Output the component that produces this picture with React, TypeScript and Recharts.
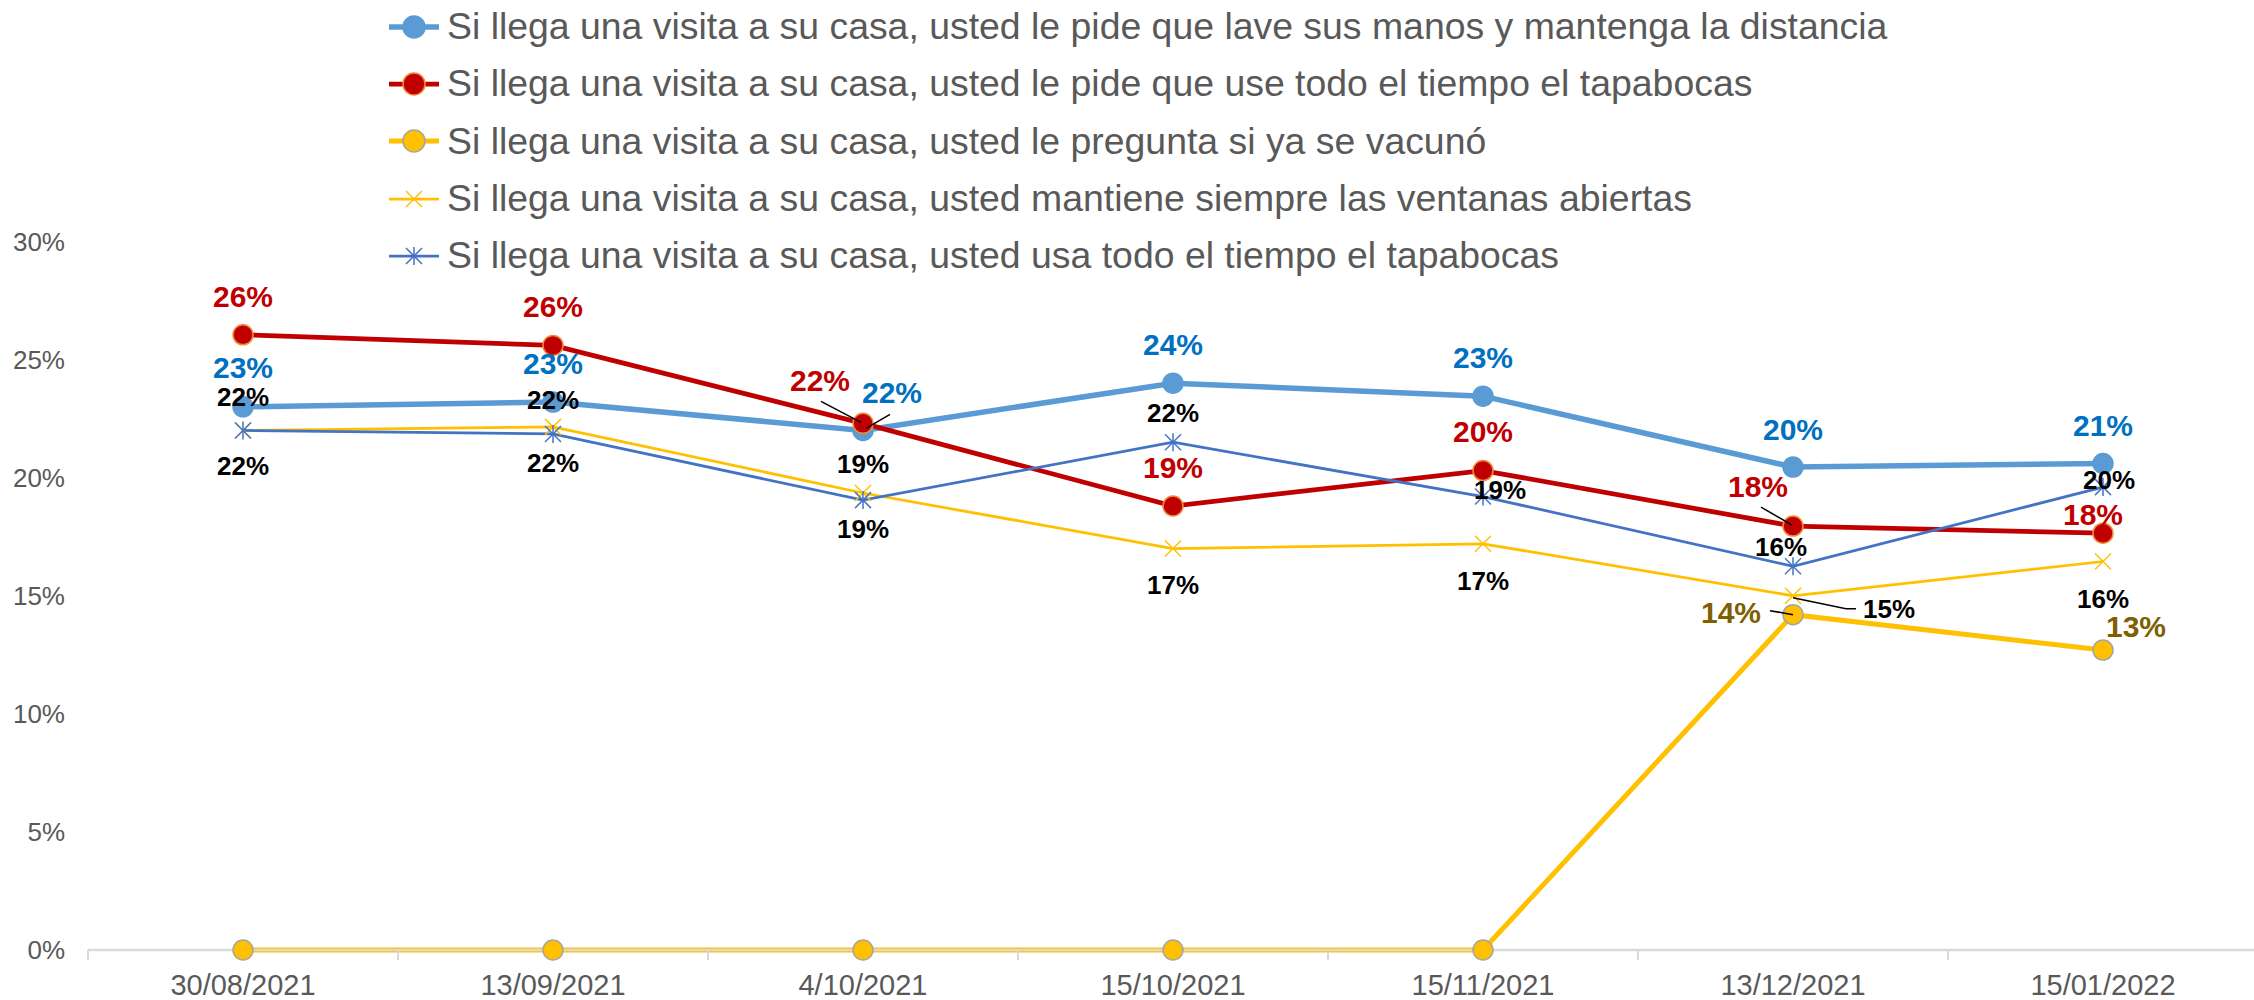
import React from "react";
import { LineChart, Line, XAxis, YAxis, LabelList, Legend } from "recharts";

document.body.style.margin = "0";

const FONT = "'Liberation Sans', Arial, sans-serif";

const fechas = ["30/08/2021", "13/09/2021", "4/10/2021", "15/10/2021", "15/11/2021", "13/12/2021", "15/01/2022"];
const lavarManos = [23.0, 23.2, 22.0, 24.0, 23.45, 20.45, 20.6];
const pideTapabocas = [26.05, 25.6, 22.3, 18.8, 20.3, 17.95, 17.65];
const preguntaVacuna = [0, 0, 0, 0, 0, 14.2, 12.7];
const ventanasAbiertas = [22.0, 22.15, 19.35, 17.0, 17.2, 15.0, 16.45];
const usaTapabocas = [22.0, 21.85, 19.05, 21.5, 19.2, 16.25, 19.6];
const yTicks = [0, 5, 10, 15, 20, 25, 30];

const data = fechas.map((fecha, i) => ({
  fecha,
  s1: lavarManos[i],
  s2: pideTapabocas[i],
  s3: preguntaVacuna[i],
  s4: ventanasAbiertas[i],
  s5: usaTapabocas[i],
}));

const W = 2254;
const H = 1000;
const LEFT = 88;
const RIGHT_MARGIN = -4;
const HALF_BAND = (W - LEFT - RIGHT_MARGIN) / fechas.length / 2;

type Pt = [number, number];

// label placement (offsets from the point, px) and leader lines
const series = [
  {
    key: "s1",
    name: "Si llega una visita a su casa, usted le pide que lave sus manos y mantenga la distancia",
    color: "#5B9BD5",
    width: 5.5,
    marker: "circle",
    markerStroke: "#5B9BD5",
    labelColor: "#0070C0",
    labelSize: 30,
    offsets: [[0, -39], [0, -39], [29, -38], [0, -39], [0, -39], [0, -38], [0, -38]] as Pt[],
    leaders: { 2: [[27, -16], [3, -2]] } as Record<number, Pt[]>,
  },
  {
    key: "s2",
    name: "Si llega una visita a su casa, usted le pide que use todo el tiempo el tapabocas",
    color: "#C00000",
    width: 4.75,
    marker: "circle",
    markerStroke: "#F08A3C",
    labelColor: "#C00000",
    labelSize: 30,
    offsets: [[0, -38], [0, -39], [-43, -43], [0, -39], [0, -39], [-35, -40], [-10, -19]] as Pt[],
    leaders: { 2: [[-42, -22], [-2, -1]], 5: [[-32, -19], [-1, -1]] } as Record<number, Pt[]>,
  },
  {
    key: "s3",
    name: "Si llega una visita a su casa, usted le pregunta si ya se vacunó",
    color: "#FFC000",
    width: 5,
    marker: "circle",
    markerStroke: "#A5A5A5",
    labelColor: "#7F6000",
    labelSize: 30,
    offsets: [[0, 0], [0, 0], [0, 0], [0, 0], [0, 0], [-62, -2], [33, -24]] as Pt[],
    leaders: { 5: [[-23, -4], [0, 0]] } as Record<number, Pt[]>,
  },
  {
    key: "s4",
    name: "Si llega una visita a su casa, usted mantiene siempre las ventanas abiertas",
    color: "#FFC000",
    width: 2.75,
    marker: "x",
    markerStroke: "#FFC000",
    labelColor: "#000000",
    labelSize: 26,
    offsets: [[0, 36], [0, 36], [0, 36], [0, 36], [0, 37], [96, 13], [0, 37]] as Pt[],
    leaders: { 5: [[0, 2], [53, 13], [63, 13]] } as Record<number, Pt[]>,
  },
  {
    key: "s5",
    name: "Si llega una visita a su casa, usted usa todo el tiempo el tapabocas",
    color: "#4472C4",
    width: 2.75,
    marker: "star",
    markerStroke: "#4472C4",
    labelColor: "#000000",
    labelSize: 26,
    offsets: [[0, -33], [0, -34], [0, -36], [0, -29], [17, -7], [-12, -19], [6, -7]] as Pt[],
    leaders: {} as Record<number, Pt[]>,
  },
];

type S = (typeof series)[number];

function Marker({ kind, x, y, fill, stroke, r }: { kind: string; x: number; y: number; fill: string; stroke: string; r: number }) {
  if (kind === "circle") {
    return <circle cx={x} cy={y} r={r} fill={fill} stroke={stroke} strokeWidth={1.5} />;
  }
  const d = 8;
  return (
    <g stroke={stroke} strokeWidth={1.5}>
      <line x1={x - d} y1={y - d} x2={x + d} y2={y + d} />
      <line x1={x - d} y1={y + d} x2={x + d} y2={y - d} />
      {kind === "star" && <line x1={x} y1={y - d - 1} x2={x} y2={y + d + 1} />}
    </g>
  );
}

const makeDot = (s: S) => (props: any) => {
  const { cx, cy, index } = props;
  if (cx == null || cy == null) return <g key={index} />;
  return <Marker key={index} kind={s.marker} x={cx} y={cy} fill={s.color} stroke={s.markerStroke} r={10} />;
};

const makeLabel = (s: S) => (props: any) => {
  const { x, y, value, index } = props;
  if (!value) return null;
  const [dx, dy] = s.offsets[index];
  const lead = s.leaders[index];
  return (
    <g>
      {lead && (
        <polyline
          points={lead.map(([a, b]) => `${x + a},${y + b}`).join(" ")}
          fill="none"
          stroke="#000"
          strokeWidth={1.5}
        />
      )}
      <text
        x={x + dx}
        y={y + dy}
        textAnchor="middle"
        dominantBaseline="central"
        fill={s.labelColor}
        fontSize={s.labelSize}
        fontWeight="bold"
        fontFamily={FONT}
      >
        {Math.round(value)}%
      </text>
    </g>
  );
};

const XTick = (props: any) => {
  const { x, y, payload } = props;
  return (
    <g>
      <line x1={x - HALF_BAND} x2={x - HALF_BAND} y1={y - 10} y2={y} stroke="#D9D9D9" strokeWidth={2} />
      <text x={x} y={y + 35} textAnchor="middle" fill="#595959" fontSize={29} fontFamily={FONT}>
        {payload.value}
      </text>
    </g>
  );
};

const LegendContent = () => (
  <div style={{ fontFamily: FONT }}>
    {series.map((s) => (
      <div key={s.key} style={{ display: "flex", alignItems: "center", height: 57.3 }}>
        <svg width={52} height={30} style={{ flexShrink: 0 }}>
          <line x1={1} y1={15} x2={51} y2={15} stroke={s.color} strokeWidth={s.width} />
          <Marker kind={s.marker} x={26} y={15} fill={s.color} stroke={s.markerStroke} r={11} />
        </svg>
        <span style={{ marginLeft: 7, fontSize: 37.4, color: "#595959", whiteSpace: "nowrap" }}>{s.name}</span>
      </div>
    ))}
  </div>
);

export default function App() {
  return (
    <div style={{ width: W, height: H, background: "#fff" }}>
      <LineChart width={W} height={H} data={data} margin={{ top: 241.5, right: RIGHT_MARGIN, left: 0, bottom: 0 }}>
        <XAxis
          dataKey="fecha"
          height={50}
          padding={{ left: HALF_BAND, right: HALF_BAND }}
          tick={<XTick />}
          tickSize={10}
          tickMargin={0}
          tickLine={false}
          axisLine={{ stroke: "#D9D9D9", strokeWidth: 2.5 }}
          interval={0}
        />
        <YAxis
          width={LEFT}
          domain={[0, 30]}
          ticks={yTicks}
          tickFormatter={(v) => `${v}%`}
          axisLine={false}
          tickLine={false}
          tickSize={0}
          tickMargin={23}
          tick={{ fill: "#595959", fontSize: 26, fontFamily: FONT }}
        />
        <Legend
          layout="horizontal"
          verticalAlign="middle"
          align="center"
          content={<LegendContent />}
          wrapperStyle={{ top: -2, left: 388, width: 1800, height: 290 }}
        />
        {series.map((s) => (
          <Line
            key={s.key}
            type="linear"
            dataKey={s.key}
            name={s.name}
            stroke={s.color}
            strokeWidth={s.width}
            dot={makeDot(s)}
            activeDot={false}
            isAnimationActive={false}
          >
            <LabelList dataKey={s.key} content={makeLabel(s)} />
          </Line>
        ))}
      </LineChart>
    </div>
  );
}
